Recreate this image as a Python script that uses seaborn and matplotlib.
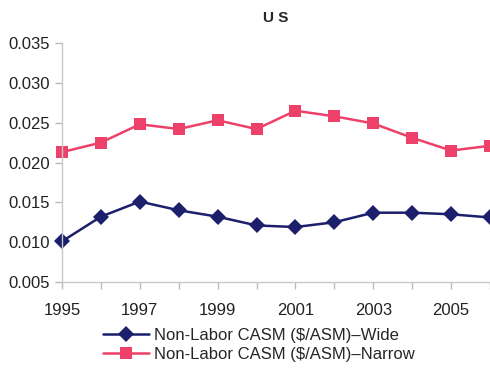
import pandas as pd
import matplotlib.pyplot as plt
import seaborn as sns

years = list(range(1995, 2007))
wide = [0.0101, 0.0132, 0.0151, 0.0140, 0.0132, 0.0121, 0.0119, 0.0125, 0.0137, 0.0137, 0.0135, 0.0131]
narrow = [0.0213, 0.0225, 0.0248, 0.0242, 0.0253, 0.0242, 0.0265, 0.0258, 0.0249, 0.0231, 0.0215, 0.0221]
labels = ["Non-Labor CASM ($/ASM)\u2013Wide", "Non-Labor CASM ($/ASM)\u2013Narrow"]

df = pd.DataFrame({
    "year": years * 2,
    "value": wide + narrow,
    "series": [labels[0]] * len(years) + [labels[1]] * len(years),
})

sns.set_style("white")
plt.rcParams["font.family"] = ["Liberation Sans", "DejaVu Sans"]

fig = plt.figure(figsize=(4.9, 3.76), dpi=100)
ax = fig.add_axes([0.1265, 0.25, 0.8735, 0.6356])

sns.lineplot(data=df, x="year", y="value", hue="series", style="series",
             palette=["#1c1f6b", "#ee4169"], markers=["D", "s"], dashes=False,
             markersize=8, markeredgewidth=0, linewidth=1.8, ax=ax)
for line in ax.lines:
    line.set_clip_on(False)

ax.set_xlim(1995, 2006)
ax.set_ylim(0.005, 0.035)
ax.set_xticks(years)
ax.set_xticklabels([str(y) if y % 2 == 1 else "" for y in years])
ax.set_yticks([0.005, 0.010, 0.015, 0.020, 0.025, 0.030, 0.035])
ax.set_yticklabels([f"{v:.3f}" for v in ax.get_yticks()])
ax.tick_params(axis="both", labelsize=12, length=5, width=1, color="#bbbbbb",
               direction="out", bottom=True, left=True, labelcolor="#222222")
ax.tick_params(axis="x", pad=10)
ax.set_xlabel("")
ax.set_ylabel("")
ax.set_title("U S", fontsize=11, fontweight="bold", pad=15)
for s in ["top", "right"]:
    ax.spines[s].set_visible(False)
for s in ["left", "bottom"]:
    ax.spines[s].set_color("#c8c8c8")
    ax.spines[s].set_linewidth(1)

ax.legend(loc="upper center", bbox_to_anchor=(0.46, -0.165), frameon=False,
          fontsize=12, handlelength=2.8, labelspacing=0.25, handletextpad=0.3,
          borderaxespad=0)

fig.savefig("out.png", dpi=100)
